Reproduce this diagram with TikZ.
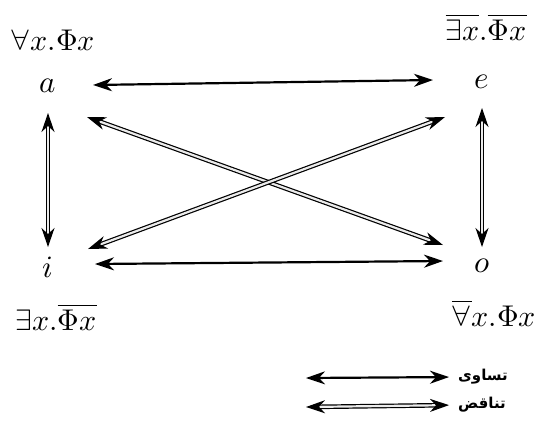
\documentclass[tikz,border=0pt]{standalone}
\usepackage{unicode-math}
\usetikzlibrary{arrows.meta,calc}
\newfontfamily\arabicfont[Script=Arabic]{DejaVu Sans}
\TeXXeTstate=1
\begin{document}
\begin{tikzpicture}[x=1pt,y=-1pt,
  lbl/.style={inner sep=0pt,font=\fontsize{30}{36}\selectfont},
  vtx/.style={inner sep=0pt,font=\fontsize{31}{37}\selectfont},
  leg/.style={inner sep=0pt,font=\fontsize{15}{17}\selectfont\arabicfont\bfseries},
  tip/.tip={Stealth[length=19pt,width=13pt,inset=6pt]},
  eq/.style={line width=2.2pt,tip-tip},
  ct/.style={line width=1.2pt,double=white!92!black,double distance=2.2pt,tip-tip}]
\useasboundingbox (0,0) rectangle (537,421);
\node[vtx] (a) at (48,86) {$a$};
\node[vtx] (e) at (482,82) {$e$};
\node[vtx] (i) at (48,267) {$i$};
\node[vtx] (o) at (482,266) {$o$};
\node[lbl] (A) at (53,40) {$\forall x.\Phi x$};
\node[lbl] (E) at (486,27) {$\overline{\exists x}.\overline{\Phi x}$};
\node[lbl] (I) at (56,317) {$\exists x.\overline{\Phi x}$};
\node[lbl] (O) at (494,313) {$\overline{\forall}x.\Phi x$};
\draw[eq] ($(a)+(45,-1)$) -- ($(e)+(-49,-2)$);
\draw[eq] ($(i)+(47,-3)$) -- ($(o)+(-39,-5)$);
\draw[ct] ($(a)+(39,31)$) -- ($(o)+(-39,-21)$);
\draw[ct] ($(e)+(-37,35)$) -- ($(i)+(40,-18)$);
\draw[ct] ($(a)+(0,27)$) -- ($(i)+(0,-20)$);
\draw[ct] ($(e)+(0,26)$) -- ($(o)+(0,-19)$);
\node[leg,anchor=west] (t1) at (458,377) {\beginR تساوی\endR};
\node[leg,anchor=west] (t2) at (458,405) {\beginR تناقض\endR};
\coordinate (l1) at (306,378);
\coordinate (l2) at (306,407);
\draw[eq] (l1) -- (t1.west) [shorten >=9pt];
\draw[ct] (l2) -- (t2.west) [shorten >=9pt];
\end{tikzpicture}
\end{document}
